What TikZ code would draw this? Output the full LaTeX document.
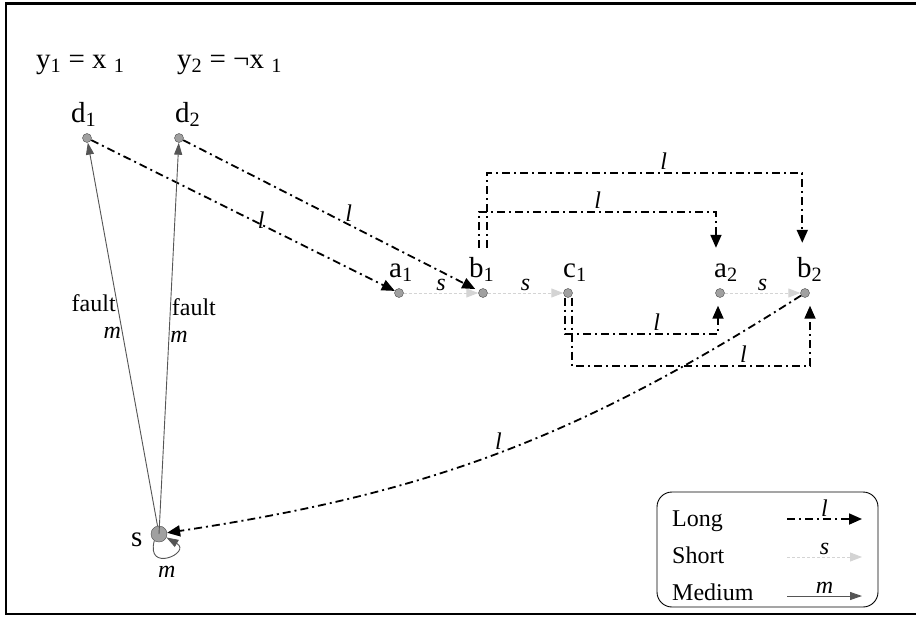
\documentclass[tikz,border=0pt]{standalone}
\usepackage{fontspec}
\setmainfont{Liberation Serif}
\usetikzlibrary{arrows.meta, positioning, calc}
\definecolor{dotgray}{RGB}{160, 160, 160}
\definecolor{shortgray}{RGB}{212, 212, 212}
\definecolor{medgray}{RGB}{85, 85, 85}

\begin{document}
\begin{tikzpicture}[x=1pt, y=-1pt,
  dot/.style={circle, draw=black!70, fill=dotgray, inner sep=0pt, minimum size=9pt},
  lab/.style={inner xsep=0pt, inner ysep=9pt, text height=20pt, anchor=base west, font=\fontsize{29}{32}\selectfont},
  head/.style={inner sep=0pt, anchor=base west, font=\fontsize{29}{32}\selectfont},
  txt/.style={inner sep=1pt, font=\fontsize{24}{26}\selectfont},
  lbl/.style={inner sep=2pt, font=\fontsize{24}{26}\selectfont\itshape},
  longarr/.style={line width=1.8pt, dash pattern=on 8pt off 4pt on 2pt off 4pt, -{Triangle[length=13pt, width=11pt]}},
  shortarr/.style={draw=shortgray, line width=1pt, dash pattern=on 3pt off 2pt, -{Triangle[length=12pt, width=9pt, fill=shortgray]}},
  medarr/.style={draw=medgray, line width=0.9pt, -{Triangle[length=12pt, width=8pt, fill=medgray]}}]
\useasboundingbox (0,0) rectangle (916,621);
\draw[line width=2.5pt] (920,3.5) -- (6,3.5) -- (6,614) -- (920,614);

\node[head] (y1) at (36,68) {y\textsubscript{1} = x \textsubscript{1}};
\node[head] (y2) at (177,68) {y\textsubscript{2} = ¬x \textsubscript{1}};

\node[dot] (d1) at (87,138) {};
\node[dot] (d2) at (179,138) {};
\node[dot] (a1) at (399,293) {};
\node[dot] (b1) at (483,293) {};
\node[dot] (c1) at (568,293) {};
\node[dot] (a2) at (720,293) {};
\node[dot] (b2) at (805,293) {};
\node[dot, minimum size=16pt] (s) at (159,534) {};

\node[lab] (d1lab) at (71,122) {d\textsubscript{1}};
\node[lab] (d2lab) at (175,122) {d\textsubscript{2}};
\node[lab] (a1lab) at (389,277) {a\textsubscript{1}};
\node[lab] (b1lab) at (469,277) {b\textsubscript{1}};
\node[lab] (c1lab) at (563,277) {c\textsubscript{1}};
\node[lab] (a2lab) at (714,277) {a\textsubscript{2}};
\node[lab] (b2lab) at (797,277) {b\textsubscript{2}};
\node[lab] (slab) at (131,546) {s};

\draw[shortarr] (a1) -- node[lbl, above]{s} (b1);
\draw[shortarr] (b1) -- node[lbl, above]{s} (c1);
\draw[shortarr] (a2) -- node[lbl, above]{s} (b2);

\draw[longarr] (d1) -- node[pos=0.56, lbl, yshift=4pt]{l} (a1);
\draw[longarr, shorten >=4pt] (d2) -- node[pos=0.56, lbl, above]{l} (b1);
\draw[longarr] ([xshift=5.5pt]b1lab.north) -- ++(0,75pt) -| node[pos=0.28, lbl, above]{l} ([xshift=-7.5pt,yshift=5pt]b2lab.north);
\draw[longarr] ([xshift=-2.5pt]b1lab.north) -- ++(0,36pt) -| node[pos=0.25, lbl, above]{l} ([xshift=-10pt]a2lab.north);
\draw[longarr] ([xshift=-3pt]c1.south) -- ++(0,-36pt) -| node[pos=0.3, lbl, above]{l} ([xshift=-2pt,yshift=-8pt]a2.south);
\draw[longarr] ([xshift=4pt]c1.south) -- ++(0,-68pt) -| node[pos=0.36, lbl, above]{l} ([xshift=5pt,yshift=-8pt]b2.south);
\draw[longarr] (b2) to[bend left=12] node[pos=0.5, lbl, above]{l} (s);

\draw[medarr] (s) -- node[pos=0.58, txt, left]{fault} node[pos=0.505, lbl, left, inner sep=1pt]{m} (d1);
\draw[medarr] (s.center) -- node[pos=0.58, txt, right]{fault} node[pos=0.505, lbl, right, inner sep=1pt]{m} (d2);
\draw[medarr] (s.235) .. controls +(255:34pt) and +(330:30pt) .. node[lbl, below, yshift=-7pt]{m} (s.335);

\node[draw, line width=0.9pt, rounded corners=15pt, minimum width=221pt, minimum height=115pt] (legend) at (767.5,549.5) {};
\node[txt, anchor=base west] (longtxt) at (671,526) {Long};
\node[txt, anchor=base west] (shorttxt) at (671,563) {Short};
\node[txt, anchor=base west] (medtxt) at (671,600) {Medium};
\coordinate (longA) at (787,519);
\coordinate (longB) at (862,519);
\coordinate (shortA) at (787,557);
\coordinate (shortB) at (862,557);
\coordinate (medA) at (787,596);
\coordinate (medB) at (862,596);
\draw[longarr] (longA) -- node[lbl, above]{l} (longB);
\draw[shortarr] (shortA) -- node[lbl, above]{s} (shortB);
\draw[medarr] (medA) -- node[lbl, above]{m} (medB);
\end{tikzpicture}
\end{document}
